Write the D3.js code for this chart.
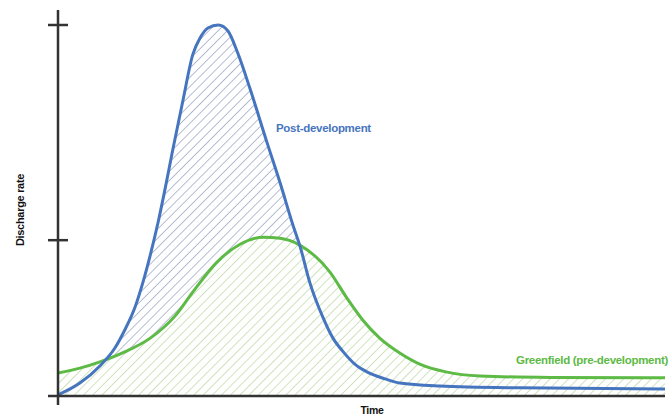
<!DOCTYPE html>
<html><head><meta charset="utf-8">
<script src="https://cdn.jsdelivr.net/npm/d3@7"></script>
<style>html,body{margin:0;padding:0;background:#fff;}svg{display:block;}</style>
</head><body>
<svg id="c" width="670" height="416"></svg>
<script>
// ---- data ----
const postTime  = [0, 3.6, 6.9, 9.4, 11.0, 12.7, 14.0, 15.2, 16.5, 17.6, 18.9, 20.6, 22.2, 23.4, 24.7, 26.4, 28.0, 29.6, 31.6, 34.4, 36.6, 38.7, 39.9, 41.5, 43.7, 45.3, 47.0, 48.9, 50.9, 53.9, 56.3, 62.9, 76.1, 100];
const postRate  = [0.3, 3.5, 8.1, 13.0, 17.8, 24.0, 30.7, 38.0, 46.9, 55.5, 66.3, 79.8, 92.0, 96.5, 99.2, 100, 98.4, 92.5, 83.0, 68.5, 57.4, 46.1, 40.2, 30.5, 21.0, 15.6, 11.9, 8.6, 6.5, 4.6, 3.5, 2.7, 2.2, 1.9];
const greenTime = [0, 3.6, 6.9, 11.0, 15.2, 19.3, 22.2, 26.2, 30.0, 33.8, 36.6, 39.9, 44.8, 47.6, 50.2, 53.0, 56.3, 59.6, 63.9, 69.5, 81.1, 100];
const greenRate = [6.2, 7.5, 9.2, 11.9, 15.6, 21.6, 28.0, 36.1, 40.9, 42.8, 42.5, 40.6, 33.4, 26.4, 20.5, 15.6, 11.6, 8.6, 6.5, 5.4, 5.0, 4.9];
const yTicks = [42, 100];
const seriesNames = ["Post-development", "Greenfield (pre-development)"];
const axisTitles = ["Discharge rate", "Time"];

// ---- chart ----
const svg = d3.select("#c");
const x = d3.scaleLinear().domain([0, 100]).range([58, 665]);
const y = d3.scaleLinear().domain([0, 100]).range([396, 25]);

const defs = svg.append("defs");
function hatch(id, color) {
  const p = defs.append("pattern").attr("id", id).attr("patternUnits", "userSpaceOnUse")
    .attr("width", 6.5).attr("height", 6.5).attr("patternTransform", "rotate(45)");
  p.append("rect").attr("width", 6.5).attr("height", 6.5).attr("fill", "#fff");
  p.append("line").attr("x1", 0).attr("y1", 0).attr("x2", 0).attr("y2", 6.5)
    .attr("stroke", color).attr("stroke-width", 1.6);
}
hatch("hb", "#a3adc6");
hatch("hg", "#c4dcad");

const post = postTime.map((t, i) => [t, postRate[i]]);
const green = greenTime.map((t, i) => [t, greenRate[i]]);

const area = d3.area().x(d => x(d[0])).y0(y(0)).y1(d => y(d[1])).curve(d3.curveMonotoneX);
const line = d3.line().x(d => x(d[0])).y(d => y(d[1])).curve(d3.curveMonotoneX);

svg.append("path").datum(post).attr("d", area).attr("fill", "url(#hb)");
svg.append("path").datum(green).attr("d", area).attr("fill", "url(#hg)");

svg.append("path").datum(green).attr("d", line).attr("fill", "none")
  .attr("stroke", "#5cba45").attr("stroke-width", 3);
svg.append("path").datum(post).attr("d", line).attr("fill", "none")
  .attr("stroke", "#4675c0").attr("stroke-width", 3);

// axes
const ax = svg.append("g").attr("stroke", "#333").attr("stroke-width", 2.5);
ax.append("line").attr("x1", x(0)).attr("x2", x(0)).attr("y1", 10).attr("y2", 405);
ax.append("line").attr("x1", 48).attr("x2", x(100)).attr("y1", y(0)).attr("y2", y(0));
ax.selectAll("line.tk").data(yTicks).enter().append("line").attr("class", "tk")
  .attr("x1", 48).attr("x2", 68).attr("y1", d => y(d)).attr("y2", d => y(d));

const font = "'Liberation Sans', Arial, sans-serif";
svg.append("text").text(seriesNames[0]).attr("x", 276).attr("y", 132)
  .attr("font-family", font).attr("font-weight", "bold").attr("font-size", 11.5)
  .attr("letter-spacing", -0.3).attr("fill", "#4675c0");
svg.append("text").text(seriesNames[1]).attr("x", 668).attr("y", 364).attr("text-anchor", "end")
  .attr("font-family", font).attr("font-weight", "bold").attr("font-size", 11.5)
  .attr("letter-spacing", -0.3).attr("fill", "#5cba45");
svg.append("text").text(axisTitles[0]).attr("transform", "translate(24,210) rotate(-90)")
  .attr("text-anchor", "middle").attr("font-family", font).attr("font-weight", "bold")
  .attr("font-size", 11).attr("letter-spacing", -0.3).attr("fill", "#111");
svg.append("text").text(axisTitles[1]).attr("x", 372).attr("y", 414).attr("text-anchor", "middle")
  .attr("font-family", font).attr("font-weight", "bold").attr("font-size", 10.5)
  .attr("letter-spacing", -0.3).attr("fill", "#111");
</script>
</body></html>
